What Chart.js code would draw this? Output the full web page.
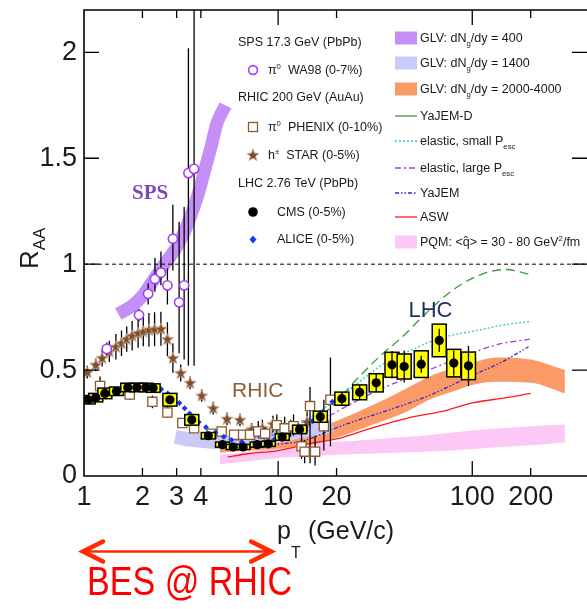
<!DOCTYPE html>
<html><head><meta charset="utf-8">
<script src="https://cdn.jsdelivr.net/npm/chart.js@4.4.1/dist/chart.umd.min.js"></script>
<style>html,body{margin:0;background:#fff}canvas{display:block}</style>
</head><body>
<canvas id="c" width="587" height="609"></canvas>
<script>
// axis labels
const xLabelVals=[1,2,3,4,10,20,100,200]
const yLabelVals=[0,0.5,1,1.5,2]

// SPS WA98 pi0
const wa98X=[1.31,1.92,2.14,2.32,2.49,2.69,2.87,3.09,3.28,3.45,3.69]
const wa98Y=[0.60,0.76,0.86,0.93,0.96,0.90,1.12,0.82,0.90,1.43,1.45]
const wa98Lo=[0.57,0.73,0.81,0.87,0.90,0.81,0.97,0.58,0.55,0.52,0.52]
const wa98Hi=[0.63,0.79,0.91,1.03,1.06,0.98,1.28,1.20,1.27,2.02,2.40]

// RHIC PHENIX pi0
const phxX=[1.21,1.72,2.25,2.69,3.21,3.69,4.54,5.12,5.93,6.6,7.17,7.9,8.57,9.85,10.8,12.0,13.2,13.7,14.6,15.5,17.2,18.6]
const phxY=[0.425,0.385,0.35,0.30,0.25,0.225,0.20,0.21,0.195,0.195,0.195,0.21,0.20,0.24,0.225,0.235,0.14,0.115,0.33,0.115,0.235,0.36]
const phxLo=[0.375,0.36,0.32,0.275,0.23,0.205,0.185,0.19,0.18,0.18,0.175,0.18,0.18,0.19,0.18,0.19,0.08,0.06,0.06,0.05,0.12,0.14]
const phxHi=[0.47,0.41,0.38,0.33,0.27,0.245,0.215,0.23,0.215,0.215,0.22,0.26,0.23,0.29,0.28,0.29,0.20,0.17,0.42,0.19,0.36,0.56]

// RHIC STAR h+-
const starX=[1.04,1.15,1.24,1.35,1.46,1.56,1.66,1.77,1.90,2.02,2.16,2.31,2.49,2.69,2.87,3.15,3.52,4.04,4.63,5.45,6.36,7.3,8.3,9.4,11.6,14.1]
const starY=[0.49,0.525,0.557,0.588,0.61,0.627,0.646,0.662,0.675,0.682,0.69,0.693,0.695,0.646,0.557,0.486,0.44,0.38,0.32,0.27,0.265,0.22,0.225,0.245,0.225,0.255]
const starErr=[0.03,0.03,0.04,0.05,0.06,0.06,0.06,0.07,0.07,0.07,0.08,0.08,0.08,0.08,0.07,0.04,0.03,0.03,0.03,0.03,0.03,0.03,0.04,0.04,0.04,0.05]

// LHC CMS
const cmsX=[1.05,1.15,1.28,1.47,1.68,1.87,2.08,2.27,2.77,3.59,4.37,5.17,5.87,6.6,7.8,8.9,10.5,12.9,16.5,21.3,26.3,32.0,38.6,44.6,54.6,67.6,80.3,95.6]
const cmsY=[0.36,0.37,0.39,0.40,0.418,0.418,0.418,0.415,0.36,0.265,0.19,0.148,0.137,0.137,0.148,0.152,0.184,0.22,0.28,0.365,0.395,0.44,0.525,0.517,0.528,0.64,0.533,0.52]
const cmsStat=[0.01,0.01,0.01,0.01,0.01,0.01,0.01,0.01,0.015,0.01,0.01,0.01,0.01,0.01,0.01,0.01,0.01,0.015,0.03,0.03,0.035,0.045,0.065,0.075,0.04,0.055,0.06,0.095]
const cmsSys=[0.02,0.02,0.025,0.02,0.02,0.02,0.02,0.02,0.03,0.025,0.015,0.012,0.012,0.012,0.012,0.012,0.015,0.02,0.026,0.031,0.035,0.043,0.059,0.059,0.063,0.077,0.065,0.065]

// LHC ALICE
const aliceX=[1.05,1.15,1.25,1.35,1.45,1.55,1.65,1.75,1.85,1.95,2.1,2.3,2.5,2.7,2.9,3.1,3.3,3.5,3.7,3.9,4.25,4.75,5.25,5.75,6.5,7.5,8.5,9.5,11,13,15,17,19]
const aliceY=[0.355,0.37,0.38,0.39,0.40,0.41,0.415,0.42,0.425,0.43,0.43,0.425,0.41,0.39,0.37,0.345,0.32,0.295,0.275,0.255,0.23,0.205,0.185,0.17,0.16,0.155,0.16,0.17,0.19,0.22,0.26,0.30,0.35]

// GLV bands
const glv400X=[1.5,1.75,2.0,2.3,2.6,2.95,3.28,3.84,4.15,4.5,4.86,5.36]
const glv400Y=[0.765,0.80,0.85,0.93,1.0,1.07,1.15,1.32,1.43,1.55,1.67,1.75]
const glv1400X=[2.95,3.5,4.2,5,6,7,8.5,10,12,15,19]
const glv1400Y=[0.185,0.172,0.165,0.16,0.16,0.165,0.175,0.19,0.205,0.222,0.24]
const glvLhcX=[5,7,10,15,20,30,45,60,80,100,135,200,300]
const glvLhcHi=[0.15,0.165,0.185,0.215,0.26,0.33,0.41,0.47,0.51,0.535,0.56,0.55,0.50]
const glvLhcLo=[0.11,0.12,0.13,0.15,0.18,0.24,0.30,0.36,0.40,0.43,0.445,0.44,0.39]

// PQM band
const pqmX=[5,7,10,20,40,70,100,200,300]
const pqmHi=[0.10,0.115,0.14,0.16,0.18,0.20,0.215,0.235,0.243]
const pqmLo=[0.055,0.07,0.085,0.10,0.11,0.118,0.128,0.145,0.158]

// model curves
const yajemdX=[8,10,14,19,25,33,44,58,80,110,150,200]
const yajemdY=[0.16,0.18,0.235,0.33,0.45,0.56,0.66,0.77,0.88,0.95,0.975,0.95]
const elSmallX=[8,10,13,18,25,35,50,68,110,150,200]
const elSmallY=[0.19,0.21,0.25,0.33,0.43,0.53,0.60,0.65,0.69,0.715,0.73]
const elLargeX=[6,8,10,14,18,22.6,33.6,54,90,134,198]
const elLargeY=[0.17,0.18,0.20,0.24,0.28,0.33,0.41,0.485,0.565,0.62,0.646]
const yajemX=[5,7,10,14,19,25,34,60,100,140,195]
const yajemY=[0.15,0.145,0.15,0.17,0.22,0.26,0.30,0.38,0.475,0.535,0.61]
const aswX=[5.5,7,10,15,20,30,50,70,100,150,200]
const aswY=[0.09,0.105,0.12,0.155,0.175,0.225,0.28,0.305,0.345,0.37,0.39]

const refX=[1,390]
const refY=[1,1]

const FONT='"Liberation Sans", Arial, sans-serif'
const pts=(xs,ys)=>xs.map((x,i)=>({x,y:ys[i]}))

function starImg(){
const c=document.createElement('canvas');c.width=c.height=14
const g=c.getContext('2d');g.translate(7,7.4);g.beginPath()
for(let i=0;i<10;i++){const r=i%2?2.7:6.4,a=-Math.PI/2+i*Math.PI/5;g.lineTo(r*Math.cos(a),r*Math.sin(a))}
g.closePath();g.fillStyle='#7f4f2c';g.fill();g.strokeStyle='#c8a48c';g.lineWidth=0.9;g.stroke()
return c
}
const star=starImg()

const line=(label,xs,ys,color,dash,order)=>({label,data:pts(xs,ys),borderColor:color,borderWidth:1.3,borderDash:dash,pointRadius:0,fill:false,tension:0.4,cubicInterpolationMode:'monotone',order})

const datasets=[
{label:'CMS',data:pts(cmsX,cmsY),showLine:false,pointStyle:'circle',pointRadius:4.6,pointBackgroundColor:'#000',pointBorderColor:'#000',pointBorderWidth:0,errLo:cmsY.map((v,i)=>v-cmsStat[i]),errHi:cmsY.map((v,i)=>v+cmsStat[i]),sysLo:cmsY.map((v,i)=>v-cmsSys[i]),sysHi:cmsY.map((v,i)=>v+cmsSys[i]),order:1},
{label:'ALICE',data:pts(aliceX,aliceY),showLine:false,pointStyle:'rectRot',pointRadius:3,pointBackgroundColor:'#1a3cf0',pointBorderColor:'#1a3cf0',pointBorderWidth:0,order:2},
{label:'WA98',data:pts(wa98X,wa98Y),showLine:false,pointStyle:'circle',pointRadius:4.6,pointBackgroundColor:'#fff',pointBorderColor:'#a23cf5',pointBorderWidth:1.6,errLo:wa98Lo,errHi:wa98Hi,order:3},
{label:'PHENIX',data:pts(phxX,phxY),showLine:false,pointStyle:'rect',pointRadius:6.5,pointBackgroundColor:'#fff',pointBorderColor:'#8b5a2b',pointBorderWidth:1.3,errLo:phxLo,errHi:phxHi,order:4},
{label:'STAR',data:pts(starX,starY),showLine:false,pointStyle:star,pointRadius:6,errLo:starY.map((v,i)=>v-starErr[i]),errHi:starY.map((v,i)=>v+starErr[i]),order:5},
line('YaJEM-D',yajemdX,yajemdY,'#3c9a3c',[9,5],10),
line('elastic small',elSmallX,elSmallY,'#2fc8c8',[2,2],10),
line('elastic large',elLargeX,elLargeY,'#9a3cf0',[6,3,2,3],10),
line('YaJEM',yajemX,yajemY,'#2a2ad0',[4,2,1.5,2,1.5,2],10),
line('ASW',aswX,aswY,'#ff1a1a',[],10),
{label:'ref',data:pts(refX,refY),borderColor:'#000',borderWidth:1,borderDash:[4,3],pointRadius:0,fill:false,order:12},
{label:'GLV 400',data:pts(glv400X,glv400Y),borderColor:'#c48ff6',borderWidth:13,borderCapStyle:'butt',pointRadius:0,fill:false,tension:0.4,cubicInterpolationMode:'monotone',order:20},
{label:'GLV 1400',data:pts(glv1400X,glv1400Y),borderColor:'#c9c9fa',borderWidth:14,borderCapStyle:'butt',pointRadius:0,fill:false,tension:0.4,cubicInterpolationMode:'monotone',order:20},
{label:'GLV hi',data:pts(glvLhcX,glvLhcHi),borderWidth:0,backgroundColor:'#fb9a67',fill:'+1',pointRadius:0,tension:0.4,cubicInterpolationMode:'monotone',order:20},
{label:'GLV lo',data:pts(glvLhcX,glvLhcLo),borderWidth:0,fill:false,pointRadius:0,tension:0.4,cubicInterpolationMode:'monotone',order:20},
{label:'PQM hi',data:pts(pqmX,pqmHi),borderWidth:0,backgroundColor:'#fcc8f6',fill:'+1',pointRadius:0,tension:0.4,cubicInterpolationMode:'monotone',order:21},
{label:'PQM lo',data:pts(pqmX,pqmLo),borderWidth:0,fill:false,pointRadius:0,tension:0.4,cubicInterpolationMode:'monotone',order:21}
]

// error bars and CMS boxes, drawn just before each marker set
const errPlugin={id:'err',beforeDatasetDraw(chart,args){
const ds=chart.data.datasets[args.index]
if(!ds.errLo) return
const {ctx,chartArea:a,scales:{x,y}}=chart
ctx.save();ctx.beginPath();ctx.rect(a.left,a.top,a.right-a.left,a.bottom-a.top);ctx.clip()
if(ds.sysLo){
ctx.fillStyle='#ffff00';ctx.strokeStyle='#000';ctx.lineWidth=1.5
ds.data.forEach((p,i)=>{
const px=x.getPixelForValue(p.x),t=y.getPixelForValue(ds.sysHi[i]),b=y.getPixelForValue(ds.sysLo[i])
ctx.fillRect(px-7,t,14,b-t);ctx.strokeRect(px-7,t,14,b-t)
})
}
ctx.strokeStyle='#000';ctx.lineWidth=1.3;ctx.beginPath()
ds.data.forEach((p,i)=>{
const px=x.getPixelForValue(p.x)
ctx.moveTo(px,y.getPixelForValue(ds.errLo[i]));ctx.lineTo(px,y.getPixelForValue(ds.errHi[i]))
})
ctx.stroke();ctx.restore()
}}

function rich(ctx,x,y,parts,size){
let cx=x
parts.forEach(p=>{
const s=typeof p==='string'?{t:p}:p
const fs=(s.sub||s.sup)?size*0.62:size
ctx.font=fs+'px '+FONT
const dy=s.sub?size*0.32:s.sup?-size*0.42:0
ctx.fillText(s.t,cx,y+dy);cx+=ctx.measureText(s.t).width
})
}

const deco={id:'deco',afterDatasetsDraw(chart){
const {ctx,chartArea:a,scales:{x,y}}=chart
ctx.save()
// inward ticks on all sides
ctx.strokeStyle='#000';ctx.lineWidth=1.3;ctx.beginPath()
x.ticks.forEach(t=>{
const px=x.getPixelForValue(t.value);if(px>a.right-2||px<a.left+1) return
const L=Math.abs(Math.log10(t.value)-Math.round(Math.log10(t.value)))<1e-9?15:8
ctx.moveTo(px,a.bottom);ctx.lineTo(px,a.bottom-L);ctx.moveTo(px,a.top);ctx.lineTo(px,a.top+L)
})
y.ticks.forEach(t=>{
const py=y.getPixelForValue(t.value);if(py<a.top+1||py>a.bottom-1) return
const L=Math.abs(t.value*2-Math.round(t.value*2))<1e-6?15:8
ctx.moveTo(a.left,py);ctx.lineTo(a.left+L,py);ctx.moveTo(a.right,py);ctx.lineTo(a.right-L,py)
})
ctx.stroke()
ctx.lineWidth=1.6;ctx.beginPath()
ctx.moveTo(a.right,a.top);ctx.lineTo(a.left,a.top);ctx.lineTo(a.left,a.bottom);ctx.lineTo(a.right,a.bottom);ctx.stroke()

// region labels
ctx.textAlign='center';ctx.textBaseline='alphabetic'
ctx.font='bold 21px "Liberation Serif", serif';ctx.fillStyle='#7a48b8'
ctx.fillText('SPS',x.getPixelForValue(2.19),y.getPixelForValue(1.31))
ctx.font='21px '+FONT;ctx.fillStyle='#8e5d35'
ctx.fillText('RHIC',x.getPixelForValue(7.85),y.getPixelForValue(0.374))
ctx.fillStyle='#1e2f5c';ctx.font='22px '+FONT
ctx.fillText('LHC',x.getPixelForValue(60.9),y.getPixelForValue(0.75))

// legend, left column
ctx.textAlign='left';ctx.fillStyle='#1a1a1a'
const fs=12.5
rich(ctx,238,46,['SPS 17.3 GeV (PbPb)'],fs)
rich(ctx,268,74,['π',{t:'0',sup:1},'  WA98 (0-7%)'],fs)
rich(ctx,238,101,['RHIC 200 GeV (AuAu)'],fs)
rich(ctx,268,131,['π',{t:'0',sup:1},'  PHENIX (0-10%)'],fs)
rich(ctx,268,159,['h',{t:'±',sup:1},'  STAR (0-5%)'],fs)
rich(ctx,238,187,['LHC 2.76 TeV (PbPb)'],fs)
rich(ctx,277,216,['CMS (0-5%)'],fs)
rich(ctx,277,243,['ALICE (0-5%)'],fs)
ctx.lineWidth=1.6;ctx.strokeStyle='#a23cf5';ctx.fillStyle='#fff'
ctx.beginPath();ctx.arc(253,70,4.4,0,Math.PI*2);ctx.fill();ctx.stroke()
ctx.lineWidth=1.3;ctx.strokeStyle='#8b5a2b';ctx.strokeRect(248.5,122.5,9,9)
ctx.drawImage(star,246,148)
ctx.fillStyle='#000';ctx.beginPath();ctx.arc(253,212,4.8,0,Math.PI*2);ctx.fill()
ctx.fillStyle='#1a3cf0';ctx.beginPath();ctx.moveTo(253,235.5);ctx.lineTo(256.5,239.5);ctx.lineTo(253,243.5);ctx.lineTo(249.5,239.5);ctx.closePath();ctx.fill()

// legend, right column
const sw=(c,yc)=>{ctx.fillStyle=c;ctx.fillRect(395,yc-6.5,22,13)}
const sl=(c,d,yc)=>{ctx.strokeStyle=c;ctx.lineWidth=1.3;ctx.setLineDash(d);ctx.beginPath();ctx.moveTo(395,yc);ctx.lineTo(417,yc);ctx.stroke();ctx.setLineDash([])}
sw('#c48ff6',38);sw('#c9c9fa',63);sw('#fb9a67',89);sw('#fcc8f6',242)
sl('#3c9a3c',[],116);sl('#2fc8c8',[2,2],141);sl('#9a3cf0',[6,3,2,3],168);sl('#2a2ad0',[4,2,1.5,2,1.5,2],193);sl('#ff1a1a',[],217)
ctx.fillStyle='#1a1a1a'
rich(ctx,420,42,['GLV: dN',{t:'g',sub:1},'/dy = 400'],fs)
rich(ctx,420,67,['GLV: dN',{t:'g',sub:1},'/dy = 1400'],fs)
rich(ctx,420,93,['GLV: dN',{t:'g',sub:1},'/dy = 2000-4000'],fs)
rich(ctx,420,120,['YaJEM-D'],fs)
rich(ctx,420,145,['elastic, small P',{t:'esc',sub:1}],fs)
rich(ctx,420,172,['elastic, large P',{t:'esc',sub:1}],fs)
rich(ctx,420,197,['YaJEM'],fs)
rich(ctx,420,221,['ASW'],fs)
rich(ctx,420,246,['PQM: <q\u0302> = 30 - 80 GeV',{t:'2',sup:1},'/fm'],fs)

// axis titles
ctx.fillStyle='#1a1a1a'
rich(ctx,277,539,['p'],25)
ctx.font='16px '+FONT;ctx.fillText('T',291,558)
ctx.font='25px '+FONT;ctx.fillText('(GeV/c)',308,539)
ctx.save();ctx.translate(38,269);ctx.rotate(-Math.PI/2)
ctx.font='26px '+FONT;ctx.fillText('R',0,0)
const rw=ctx.measureText('R').width
ctx.font='17px '+FONT;ctx.fillText('AA',rw,7)
ctx.restore()

// BES arrow and label
const x0=x.getPixelForValue(1)-2,x1=x.getPixelForValue(10)-6,ya=551.5
ctx.strokeStyle='#ff2a00';ctx.lineCap='round'
ctx.lineWidth=2.6;ctx.beginPath();ctx.moveTo(x0,ya);ctx.lineTo(x1,ya);ctx.stroke()
ctx.lineWidth=4.5;ctx.beginPath()
ctx.moveTo(x0+21,ya-10);ctx.lineTo(x0+1,ya);ctx.lineTo(x0+21,ya+10)
ctx.moveTo(x1-21,ya-10);ctx.lineTo(x1-1,ya);ctx.lineTo(x1-21,ya+10)
ctx.stroke()
ctx.fillStyle='#ff0000';ctx.font='40px "Liberation Sans Narrow", "Liberation Sans", Arial, sans-serif'
const bw=ctx.measureText('BES @ RHIC').width
ctx.save();ctx.translate(87,595);ctx.scale(205/bw,1);ctx.fillText('BES @ RHIC',0,0);ctx.restore()
ctx.restore()
}}

const noPad=s=>{s.paddingTop=0;s.paddingBottom=0;s.paddingLeft=0;s.paddingRight=0}

new Chart(document.getElementById('c'),{
type:'line',
data:{datasets},
options:{
responsive:false,animation:false,events:[],
layout:{autoPadding:false,padding:{top:10,right:0,left:0,bottom:0}},
plugins:{legend:{display:false},tooltip:{enabled:false}},
scales:{
x:{type:'logarithmic',min:1,max:390,
grid:{display:false,drawTicks:false},border:{display:false},
ticks:{autoSkip:false,maxRotation:0,padding:5,color:'#1a1a1a',font:{family:FONT,size:27},
callback:v=>xLabelVals.some(l=>Math.abs(l-v)<1e-6)?String(Math.round(v)):null},
afterFit(s){s.height=133;noPad(s)}},
y:{type:'linear',min:0,max:2.2,
grid:{display:false,drawTicks:false},border:{display:false},
ticks:{stepSize:0.1,autoSkip:false,padding:7,color:'#1a1a1a',font:{family:FONT,size:27},
callback:v=>yLabelVals.some(l=>Math.abs(l-v)<1e-6)?String(+v.toFixed(1)):null},
afterFit(s){s.width=84;noPad(s)}}
}
},
plugins:[errPlugin,deco]
})
</script></body></html>
